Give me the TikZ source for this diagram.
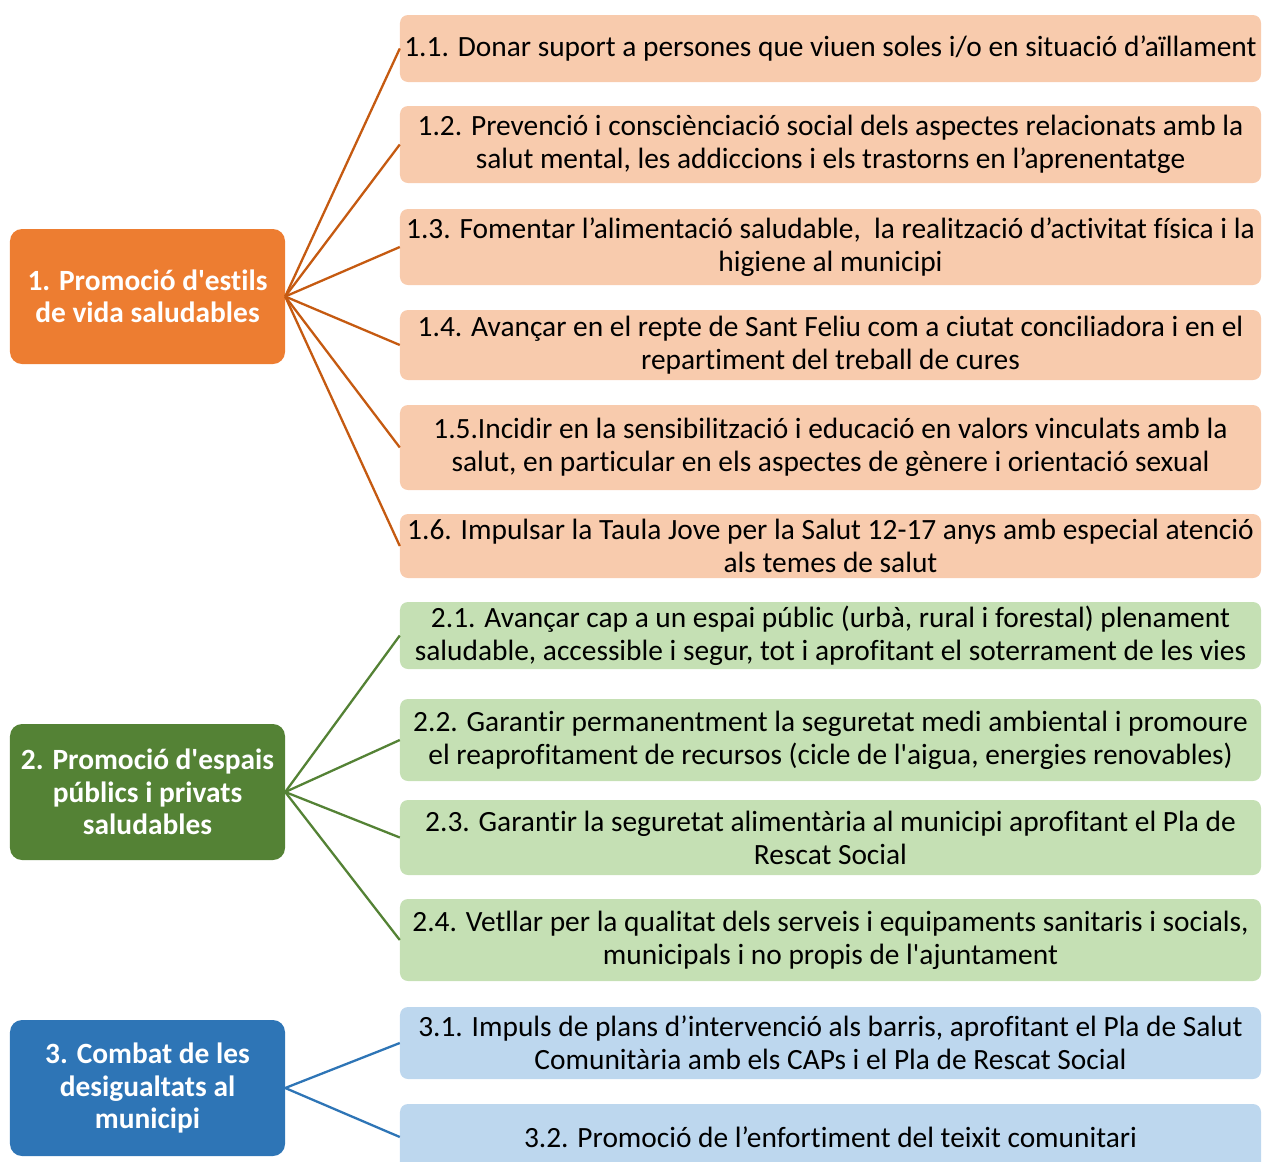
\documentclass[tikz,border=0pt]{standalone}
\usepackage{fontspec}
\setmainfont{Carlito}[Ligatures={TeXOff,NoCommon,NoRare,NoContextual},Contextuals=NoAlternate,RawFeature={-liga;-clig;-dlig;-calt}]
\definecolor{orA}{HTML}{ED7D31}
\definecolor{orL}{HTML}{F8CBAD}
\definecolor{orD}{HTML}{C55A11}
\definecolor{grA}{HTML}{548235}
\definecolor{grL}{HTML}{C5E0B4}
\definecolor{blA}{HTML}{2E75B6}
\definecolor{blL}{HTML}{BDD7EE}
\begin{document}
\begin{tikzpicture}[x=1bp,y=-1bp,
  main/.style={rounded corners=12bp, minimum width=275bp, inner sep=0pt, align=center,
    text=white, font=\fontsize{29.5}{32.5}\selectfont\bfseries},
  sub/.style={rounded corners=8bp, minimum width=861bp, inner sep=0pt, align=center,
    text=black, font=\fontsize{29.5}{33}\selectfont},
  conn/.style={line width=2.3bp}]
\useasboundingbox (0,0) rectangle (1264,1162);
% main boxes
\node[main, fill=orA, minimum height=135bp] (m1) at (147.5,296.5) {1. Promoció d'estils\\de vida saludables};
\node[main, fill=grA, minimum height=136bp] (m2) at (147.5,792) {2. Promoció d'espais\\públics i privats\\saludables};
\node[main, fill=blA, minimum height=136bp] (m3) at (147.5,1088) {3. Combat de les\\desigualtats al\\municipi};
% sub boxes
\node[sub, fill=orL, minimum height=67bp] (s11) at (830.5,48.5) {1.1. Donar suport a persones que viuen soles i/o en situació d’aïllament};
\node[sub, fill=orL, minimum height=77bp] (s12) at (830.5,144.5) {1.2. Prevenció i consciènciació social dels aspectes relacionats amb la\\salut mental, les addiccions i els trastorns en l’aprenentatge};
\node[sub, fill=orL, minimum height=76bp] (s13) at (830.5,247) {1.3. Fomentar l’alimentació saludable,\ \ la realització d’activitat física i la\\higiene al municipi};
\node[sub, fill=orL, minimum height=70bp] (s14) at (830.5,345) {1.4. Avançar en el repte de Sant Feliu com a ciutat conciliadora i en el\\repartiment del treball de cures};
\node[sub, fill=orL, minimum height=85bp] (s15) at (830.5,447.5) {1.5.Incidir en la sensibilització i educació en valors vinculats amb la\\salut, en particular en els aspectes de gènere i orientació sexual};
\node[sub, fill=orL, minimum height=64bp] (s16) at (830.5,546) {1.6. Impulsar la Taula Jove per la Salut 12-17 anys amb especial atenció\\als temes de salut};
\node[sub, fill=grL, minimum height=67bp] (s21) at (830.5,635.5) {2.1. Avançar cap a un espai públic (urbà, rural i forestal) plenament\\saludable, accessible i segur, tot i aprofitant el soterrament de les vies};
\node[sub, fill=grL, minimum height=82bp] (s22) at (830.5,740) {2.2. Garantir permanentment la seguretat medi ambiental i promoure\\el reaprofitament de recursos (cicle de l'aigua, energies renovables)};
\node[sub, fill=grL, minimum height=75bp] (s23) at (830.5,837.5) {2.3. Garantir la seguretat alimentària al municipi aprofitant el Pla de\\Rescat Social};
\node[sub, fill=grL, minimum height=82bp] (s24) at (830.5,940) {2.4. Vetllar per la qualitat dels serveis i equipaments sanitaris i socials,\\municipals i no propis de l'ajuntament};
\node[sub, fill=blL, minimum height=72bp] (s31) at (830.5,1043) {3.1. Impuls de plans d’intervenció als barris, aprofitant el Pla de Salut\\Comunitària amb els CAPs i el Pla de Rescat Social};
\node[sub, fill=blL, minimum height=66bp] (s32) at (830.5,1137) {3.2. Promoció de l’enfortiment del teixit comunitari};
% connectors
\foreach \s in {s11,s12,s13,s14,s15,s16}
  \draw[conn, orD] (m1.east) -- (\s.west);
\foreach \s in {s21,s22,s23,s24}
  \draw[conn, grA] (m2.east) -- (\s.west);
\foreach \s in {s31,s32}
  \draw[conn, blA] (m3.east) -- (\s.west);
\end{tikzpicture}
\end{document}
